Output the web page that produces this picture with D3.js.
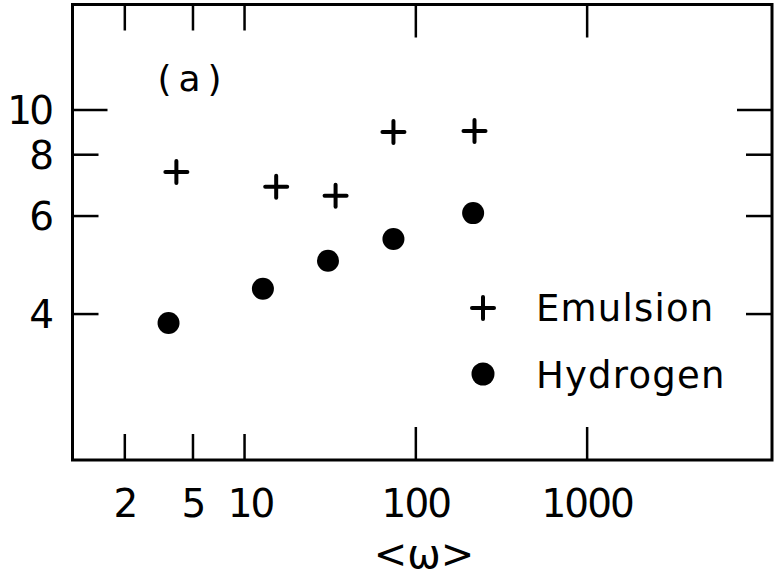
<!DOCTYPE html>
<html>
<head>
<meta charset="utf-8">
<script src="https://cdn.jsdelivr.net/npm/d3@7"></script>
<style>
  html, body { margin: 0; padding: 0; background: #fff; }
  svg text { font-family: "DejaVu Sans", sans-serif; fill: #000; }
</style>
</head>
<body>
<svg id="chart" width="775" height="577"></svg>
<script>
// ── data ──
const omegaEmulsion = [4.0, 15.3, 34, 74, 220];
const emulsion      = [7.36, 6.86, 6.58, 8.95, 8.99];
const omegaHydrogen = [3.6, 12.8, 30.7, 74, 216];
const hydrogen      = [3.87, 4.41, 4.94, 5.42, 6.08];

const xTicks = [2, 5, 10, 100, 1000];
const xMajor = [100, 1000];          // drawn a bit longer
const yTicks = [4, 6, 8, 10];
const yMajor = [10];
const xLabel = '<ω>';
const panelLabel = '(a)';
const seriesNames = ['Emulsion', 'Hydrogen'];

// ── frame ──
const L = 72.5, R = 772, T = 4.5, B = 460;

const x = d3.scaleLog().domain([0.99, 12000]).range([L, R]);
// the vertical axis of the original is a log scale of (value - 1.5)
const Y_SHIFT = 1.5;
const yLog = d3.scaleLog().domain([1.042, 16.0]).range([B, T]);
const y = (v) => yLog(v - Y_SHIFT);

const svg = d3.select('#chart');
const g = svg.append('g');

g.append('rect')
  .attr('x', L).attr('y', T).attr('width', R - L).attr('height', B - T)
  .attr('fill', 'none').attr('stroke', '#000').attr('stroke-width', 3);

// x ticks, bottom and top
const xLen = (d) => xMajor.includes(d) ? 33 : 26;
g.selectAll('.xt-b').data(xTicks).enter().append('line')
  .attr('x1', d => x(d)).attr('x2', d => x(d))
  .attr('y1', B).attr('y2', d => B - xLen(d))
  .attr('stroke', '#000').attr('stroke-width', 2.5);
g.selectAll('.xt-t').data(xTicks).enter().append('line')
  .attr('x1', d => x(d)).attr('x2', d => x(d))
  .attr('y1', T).attr('y2', d => T + xLen(d))
  .attr('stroke', '#000').attr('stroke-width', 2.5);

// y ticks, left and right
const yLen = (d) => yMajor.includes(d) ? 35 : 26;
g.selectAll('.yt-l').data(yTicks).enter().append('line')
  .attr('y1', d => y(d)).attr('y2', d => y(d))
  .attr('x1', L).attr('x2', d => L + yLen(d))
  .attr('stroke', '#000').attr('stroke-width', 2.5);
g.selectAll('.yt-r').data(yTicks).enter().append('line')
  .attr('y1', d => y(d)).attr('y2', d => y(d))
  .attr('x1', R).attr('x2', d => R - yLen(d))
  .attr('stroke', '#000').attr('stroke-width', 2.5);

// tick labels (hand lettering is narrow: pull the digits together a little)
g.selectAll('.xl').data(xTicks).enter().append('text')
  .attr('x', d => x(d) + (d === 10 ? 6 : 0)).attr('y', 517)
  .attr('text-anchor', 'middle')
  .attr('font-size', 39).attr('letter-spacing', -2)
  .text(d => d);
g.selectAll('.yl').data(yTicks).enter().append('text')
  .attr('x', 51).attr('y', d => y(d) + 14)
  .attr('text-anchor', 'end')
  .attr('font-size', 39).attr('letter-spacing', -3)
  .text(d => d);

// axis title and panel label
g.append('text')
  .attr('x', 424).attr('y', 568)
  .attr('text-anchor', 'middle').attr('font-size', 40)
  .text(xLabel);
g.append('text')
  .attr('x', 193).attr('y', 91)
  .attr('text-anchor', 'middle').attr('font-size', 36).attr('letter-spacing', 7)
  .text(panelLabel);

// markers
function cross(sel, size) {
  const h = size / 2;
  sel.append('line').attr('x1', -h).attr('x2', h).attr('y1', 0).attr('y2', 0);
  sel.append('line').attr('x1', 0).attr('x2', 0).attr('y1', -h).attr('y2', h);
  sel.attr('stroke', '#000').attr('stroke-width', 4).attr('stroke-linecap', 'round');
}

g.selectAll('.em').data(d3.zip(omegaEmulsion, emulsion)).enter().append('g')
  .attr('transform', d => `translate(${x(d[0])},${y(d[1])})`)
  .call(cross, 22);

g.selectAll('.hy').data(d3.zip(omegaHydrogen, hydrogen)).enter().append('circle')
  .attr('cx', d => x(d[0])).attr('cy', d => y(d[1]))
  .attr('r', 11).attr('fill', '#000');

// legend
const leg = g.append('g');
leg.append('g').attr('transform', 'translate(483,308)').call(cross, 22);
leg.append('circle').attr('cx', 483).attr('cy', 374).attr('r', 11.5).attr('fill', '#000');
leg.selectAll('text').data(seriesNames).enter().append('text')
  .attr('x', 536).attr('y', (d, i) => 321 + i * 67)
  .attr('font-size', 37).attr('letter-spacing', 1.2)
  .text(d => d);
</script>
</body>
</html>
